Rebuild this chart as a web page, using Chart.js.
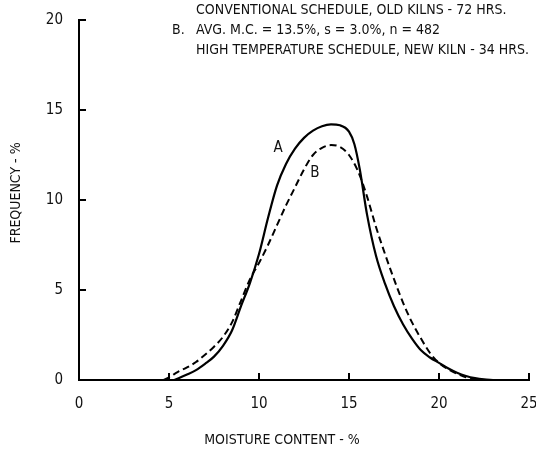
<!DOCTYPE html>
<html>
<head>
<meta charset="utf-8">
<script src="https://cdn.jsdelivr.net/npm/chart.js@4"></script>
<style>
    html, body { margin: 0; padding: 0; background: #fff; }
    #wrap { width: 536px; height: 451px; }
</style>
</head>
<body>
<div id="wrap"><canvas id="mcChart" width="536" height="451"></canvas></div>
<script>
// curve A: conventional schedule, old kilns
const moistureA = [5.3, 6, 6.5, 7, 7.5, 8, 8.5, 9, 9.5, 10, 10.5, 11, 11.5, 12, 12.5, 13, 13.5, 14, 14.5, 15, 15.3, 15.6, 16, 16.5, 17, 17.5, 18, 18.5, 19, 19.5, 20, 20.5, 21, 21.5, 22, 22.5, 23];
const frequencyA = [0, 0.3, 0.55, 0.9, 1.3, 1.9, 2.75, 4.1, 5.4, 7.0, 9.0, 10.8, 12.0, 12.85, 13.45, 13.85, 14.1, 14.2, 14.15, 13.8, 13.1, 11.7, 9.2, 6.9, 5.35, 4.1, 3.1, 2.3, 1.65, 1.25, 0.95, 0.65, 0.4, 0.22, 0.1, 0.03, 0];

// curve B: high temperature schedule, new kiln
const moistureB = [4.7, 5, 5.5, 6, 6.5, 7, 7.5, 8, 8.5, 9, 9.5, 10, 10.5, 11, 11.5, 12, 12.5, 13, 13.5, 14, 14.5, 15, 15.5, 16, 16.5, 17, 17.5, 18, 18.5, 19, 19.5, 20, 20.5, 21, 21.5, 22, 22.5];
const frequencyB = [0, 0.15, 0.45, 0.7, 1.0, 1.4, 1.85, 2.4, 3.2, 4.4, 5.6, 6.5, 7.5, 8.6, 9.7, 10.7, 11.7, 12.5, 12.9, 13.05, 12.95, 12.5, 11.6, 10.2, 8.5, 7.0, 5.6, 4.3, 3.2, 2.3, 1.5, 0.95, 0.6, 0.35, 0.15, 0.05, 0];

const xTicks = [0, 5, 10, 15, 20, 25];
const yTicks = [0, 5, 10, 15, 20];

const headerLines = [
    'CONVENTIONAL SCHEDULE, OLD KILNS - 72 HRS.',
    'AVG. M.C. = 13.5%, s = 3.0%, n = 482',
    'HIGH TEMPERATURE SCHEDULE, NEW KILN - 34 HRS.'
];

const FONT = '"Liberation Sans Narrow", "DejaVu Sans Condensed", "Liberation Sans", sans-serif';

function toPoints(xs, ys) {
    return xs.map((x, i) => ({ x: x, y: ys[i] }));
}

const textPlugin = {
    id: 'textPlugin',
    afterDraw(chart) {
        const ctx = chart.ctx;
        const x = chart.scales.x;
        const y = chart.scales.y;
        ctx.save();
        ctx.fillStyle = '#111';
        ctx.textBaseline = 'middle';
        ctx.textAlign = 'left';

        // header notes
        ctx.font = '14px ' + FONT;
        ctx.fillText(headerLines[0], 196, 10);
        ctx.fillText('B.', 172, 30);
        ctx.fillText(headerLines[1], 196, 30);
        ctx.fillText(headerLines[2], 196, 50);

        // curve labels
        ctx.font = '15px ' + FONT;
        ctx.fillText('A', x.getPixelForValue(10.8), y.getPixelForValue(12.9));
        ctx.fillText('B', x.getPixelForValue(12.85), y.getPixelForValue(11.5));

        // axis titles
        ctx.font = '14px ' + FONT;
        ctx.textAlign = 'center';
        ctx.fillText('MOISTURE CONTENT - %', 282, 440);
        ctx.translate(16, 193);
        ctx.rotate(-Math.PI / 2);
        ctx.fillText('FREQUENCY - %', 0, 0);
        ctx.restore();
    }
};

new Chart(document.getElementById('mcChart'), {
    type: 'line',
    data: {
        datasets: [{
            label: 'A',
            data: toPoints(moistureA, frequencyA),
            borderColor: '#000',
            borderWidth: 2.2,
            pointRadius: 0,
            cubicInterpolationMode: 'monotone',
            fill: false
        }, {
            label: 'B',
            data: toPoints(moistureB, frequencyB),
            borderColor: '#000',
            borderWidth: 2,
            borderDash: [7, 4],
            pointRadius: 0,
            cubicInterpolationMode: 'monotone',
            fill: false
        }]
    },
    options: {
        responsive: false,
        animation: false,
        clip: false,
        layout: {
            padding: { left: 0, right: 7, top: 20, bottom: 0 }
        },
        plugins: {
            legend: { display: false },
            tooltip: { enabled: false }
        },
        scales: {
            x: {
                type: 'linear',
                min: 0,
                max: 25,
                afterBuildTicks: (scale) => { scale.ticks = xTicks.map(v => ({ value: v })); },
                afterFit: (scale) => {
                    scale.height = 71;
                    scale.paddingLeft = 0;
                    scale.paddingRight = 0;
                },
                grid: { drawOnChartArea: false, tickLength: -7, color: '#000', lineWidth: 2 },
                border: { color: '#000', width: 2 },
                ticks: { color: '#111', padding: 22, maxRotation: 0, font: { family: FONT, size: 15 } }
            },
            y: {
                min: 0,
                max: 20,
                afterBuildTicks: (scale) => { scale.ticks = yTicks.map(v => ({ value: v })); },
                afterFit: (scale) => {
                    scale.width = 79;
                    scale.paddingTop = 0;
                    scale.paddingBottom = 0;
                },
                grid: { drawOnChartArea: false, tickLength: -7, color: '#000', lineWidth: 2 },
                border: { color: '#000', width: 2 },
                ticks: { color: '#111', padding: 23, font: { family: FONT, size: 15 } }
            }
        }
    },
    plugins: [textPlugin]
});
</script>
</body>
</html>
